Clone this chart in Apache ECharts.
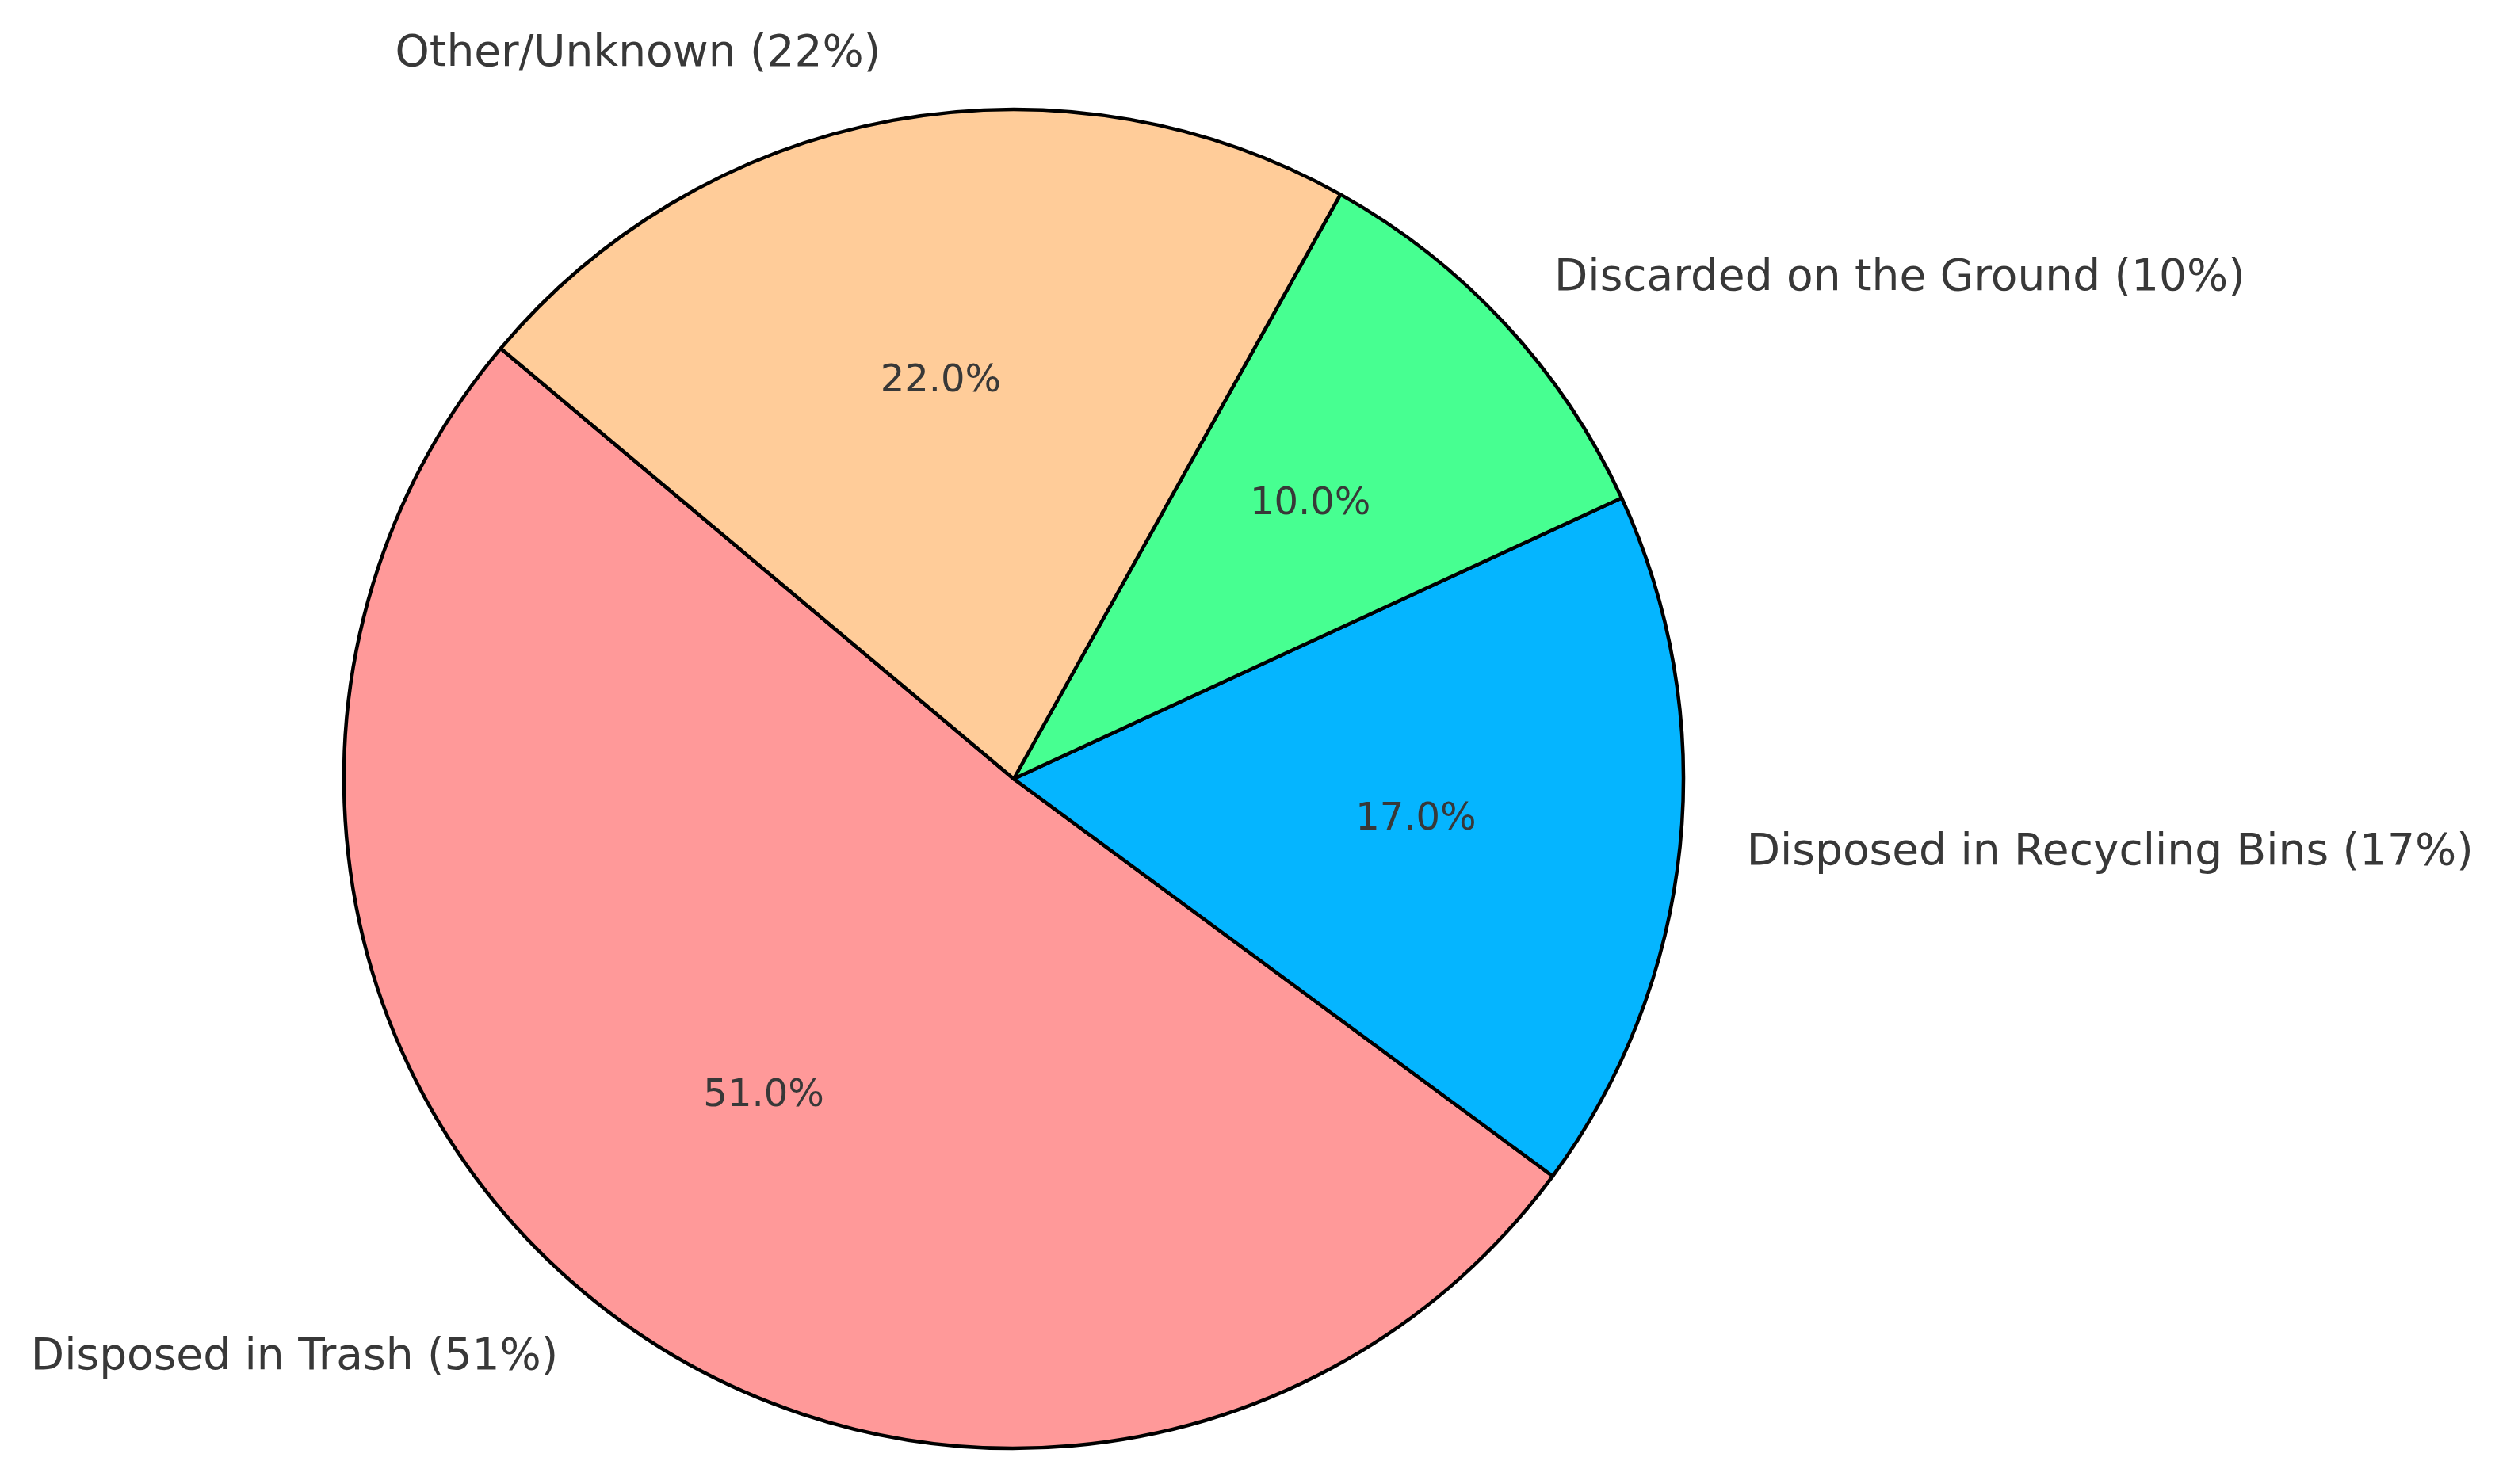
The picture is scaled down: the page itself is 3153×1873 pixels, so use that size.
<!DOCTYPE html>
<html>
<head>
<meta charset="utf-8">
<script src="https://cdn.jsdelivr.net/npm/echarts@6/dist/echarts.min.js"></script>
<style>
html,body{margin:0;padding:0;background:#ffffff;}
#chart{width:3153px;height:1873px;}
</style>
</head>
<body>
<div id="chart"></div>
<script>
const categories = ["Disposed in Trash", "Disposed in Recycling Bins", "Discarded on the Ground", "Other/Unknown"];
const values = [51, 17, 10, 22];
const colors = ["#ff9999", "#05b5ff", "#47ff91", "#ffcc99"];

const R = 845;
const C = [1279, 983];

const chart = echarts.init(document.getElementById('chart'));
const mainData = categories.map((c, i) => ({ name: c, value: values[i], itemStyle: { color: colors[i] } }));
const labelData = categories.map((c, i) => ({ name: c, value: values[i] }));

chart.setOption({
  backgroundColor: '#ffffff',
  animation: false,
  series: [
    {
      type: 'pie',
      center: C,
      radius: [0, R],
      startAngle: 140,
      clockwise: false,
      avoidLabelOverlap: false,
      silent: true,
      data: mainData,
      itemStyle: { borderColor: '#000000', borderWidth: 4.5 },
      label: {
        show: true,
        position: 'outside',
        formatter: p => p.name + ' (' + p.value + '%)',
        fontFamily: 'DejaVu Sans',
        fontSize: 55,
        color: '#383838',
        distanceToLabelLine: 0
      },
      labelLine: { show: false, length: R * 0.1, length2: 0 }
    },
    {
      type: 'pie',
      center: C,
      radius: [0, R * 1.2],
      startAngle: 140,
      clockwise: false,
      avoidLabelOverlap: false,
      silent: true,
      z: 5,
      data: labelData,
      itemStyle: { color: 'rgba(0,0,0,0)', borderWidth: 0 },
      label: {
        show: true,
        position: 'inside',
        formatter: p => p.value.toFixed(1) + '%',
        fontFamily: 'DejaVu Sans',
        fontSize: 48,
        color: '#383838'
      },
      labelLine: { show: false }
    }
  ]
});
</script>
</body>
</html>
